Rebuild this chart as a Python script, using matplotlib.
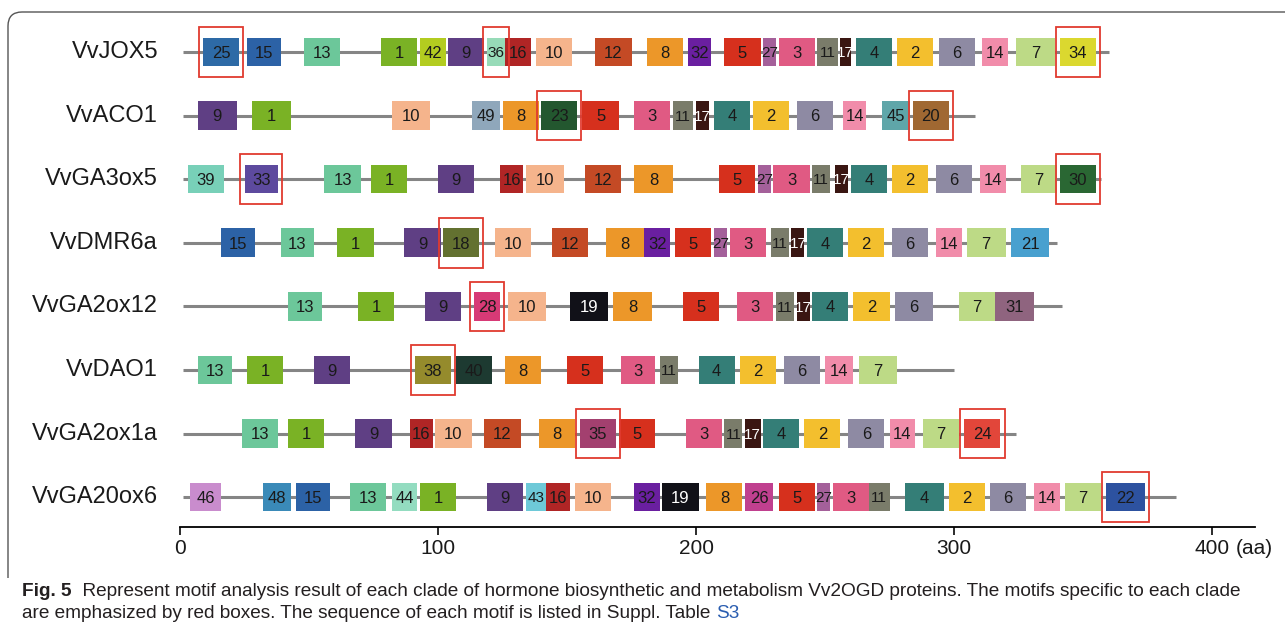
import matplotlib
matplotlib.use('Agg')
import matplotlib.pyplot as plt
from matplotlib.patches import Rectangle, PathPatch
from matplotlib.path import Path

plt.rcParams['font.family'] = ['Liberation Sans', 'DejaVu Sans']

genes = ['VvJOX5', 'VvACO1', 'VvGA3ox5', 'VvDMR6a', 'VvGA2ox12', 'VvDAO1',
         'VvGA2ox1a', 'VvGA20ox6']
lengths = [360, 308, 357, 340, 342, 300, 324, 386]

# (motif, start, end) in aa
jox5 = [(25, 9, 23), (15, 26, 39), (13, 48, 62), (1, 78, 92), (42, 93, 103),
        (9, 104, 118), (36, 119, 126), (16, 126, 136), (10, 138, 152),
        (12, 161, 175), (8, 181, 195), (32, 197, 206), (5, 211, 225),
        (27, 226, 231), (3, 232, 246), (11, 247, 255), (17, 256, 260),
        (4, 262, 276), (2, 278, 292), (6, 294, 308), (14, 311, 321),
        (7, 324, 339), (34, 341, 355)]
aco1 = [(9, 7, 22), (1, 28, 43), (10, 82, 97), (49, 113, 124), (8, 125, 139),
        (23, 140, 154), (5, 156, 170), (3, 176, 190), (11, 191, 199),
        (17, 200, 205), (4, 207, 221), (2, 222, 236), (6, 239, 253),
        (14, 257, 266), (45, 272, 283), (20, 284, 298)]
ga3ox5 = [(39, 3, 17), (33, 25, 38), (13, 56, 70), (1, 74, 88), (9, 100, 114),
          (16, 124, 133), (10, 134, 149), (12, 157, 171), (8, 176, 191),
          (5, 209, 223), (27, 224, 229), (3, 230, 244), (11, 245, 252),
          (17, 254, 259), (4, 260, 274), (2, 276, 290), (6, 293, 307),
          (14, 310, 320), (7, 326, 340), (30, 341, 355)]
dmr6a = [(15, 16, 29), (13, 39, 52), (1, 61, 75), (9, 87, 101), (18, 102, 116),
         (10, 122, 136), (12, 144, 158), (8, 165, 180), (32, 180, 190),
         (5, 192, 206), (27, 207, 212), (3, 213, 227), (11, 229, 236),
         (17, 237, 242), (4, 243, 257), (2, 259, 273), (6, 276, 290),
         (14, 293, 303), (7, 305, 320), (21, 322, 337)]
ga2ox12 = [(13, 42, 55), (1, 69, 83), (9, 95, 109), (28, 114, 124),
           (10, 127, 142), (19, 151, 166), (8, 168, 183), (5, 195, 209),
           (3, 216, 230), (11, 231, 238), (17, 239, 244), (4, 245, 259),
           (2, 261, 275), (6, 277, 292), (7, 302, 316), (31, 316, 331)]
dao1 = [(13, 7, 20), (1, 26, 40), (9, 52, 66), (38, 91, 105), (40, 107, 121),
        (8, 126, 140), (5, 150, 164), (3, 171, 184), (11, 186, 193),
        (4, 201, 215), (2, 217, 231), (6, 234, 248), (14, 250, 261),
        (7, 263, 278)]
ga2ox1a = [(13, 24, 38), (1, 42, 56), (9, 68, 82), (16, 89, 98), (10, 99, 113),
           (12, 118, 132), (8, 139, 153), (35, 155, 169), (5, 170, 184),
           (3, 196, 210), (11, 211, 218), (17, 219, 225), (4, 226, 240),
           (2, 242, 256), (6, 259, 273), (14, 275, 285), (7, 288, 302),
           (24, 304, 318)]
ga20ox6 = [(46, 4, 16), (48, 32, 43), (15, 45, 58), (13, 66, 80), (44, 82, 92),
           (1, 93, 107), (9, 119, 133), (43, 134, 142), (16, 142, 151),
           (10, 153, 167), (32, 176, 186), (19, 187, 201), (8, 204, 218),
           (26, 219, 230), (5, 232, 246), (27, 247, 252), (3, 253, 267),
           (11, 267, 275), (4, 281, 296), (2, 298, 312), (6, 314, 328),
           (14, 331, 341), (7, 343, 357), (22, 359, 374)]
motif_sets = [jox5, aco1, ga3ox5, dmr6a, ga2ox12, dao1, ga2ox1a, ga20ox6]

# clade-specific motifs, outlined in red
specific = [[25, 36, 34], [23, 20], [33, 30], [18], [28], [38], [35, 24], [22]]

xticks = [0, 100, 200, 300, 400]

colors = {
    1: '#7ab225', 2: '#f3bf2e', 3: '#e05a83', 4: '#347e77', 5: '#d6301d',
    6: '#8e8aa3', 7: '#bdda86', 8: '#ec9729', 9: '#5f3f84', 10: '#f5b48c',
    11: '#7a7c6a', 12: '#c44a25', 13: '#6cc79a', 14: '#f18caa', 15: '#2c62a6',
    16: '#b02525', 17: '#3a1612', 18: '#637130', 19: '#111118', 20: '#a06832',
    21: '#48a0cf', 22: '#2d52a0', 23: '#23572f', 24: '#e2463a', 25: '#2d6aa6',
    26: '#c0408f', 27: '#a4609a', 28: '#d73a76', 30: '#2a6733', 31: '#8f647f',
    32: '#6a1fa0', 33: '#5d4a9e', 34: '#dbd82f', 35: '#a3406f', 36: '#97dbb8',
    38: '#958b2c', 39: '#78d0b8', 40: '#1d3a31', 42: '#b3cc20', 43: '#6ec9d8',
    44: '#93dcc0', 45: '#5fa6a9', 46: '#c98ccd', 48: '#3a8ab8', 49: '#8fa7bb',
}
light_text = {17, 19}

W, H = 1285, 636
fig = plt.figure(figsize=(W / 100, H / 100), dpi=100)

# overlay in pixel units for the frame
deco = fig.add_axes([0, 0, 1, 1])
deco.set_xlim(0, W)
deco.set_ylim(H, 0)
deco.axis('off')
frame = Path([(8, 578), (8, 26), (8, 12), (22, 12), (W + 5, 12)],
             [Path.MOVETO, Path.LINETO, Path.CURVE3, Path.CURVE3, Path.LINETO])
deco.add_patch(PathPatch(frame, fill=False, ec='#555555', lw=1.0))

ax = fig.add_axes([180 / W, (H - 527) / H, (1255 - 180) / W, (527 - 20) / H])
ax.set_xlim(0, 1075 / 2.58)
ax.set_ylim(7.47, -0.503)

box_h = 0.45
mark_h = 0.78
pad = 1.6

for i, (gene, length, motifs, marks) in enumerate(
        zip(genes, lengths, motif_sets, specific)):
    ax.plot([1, length], [i, i], color='#858585', lw=2.2, zorder=1,
            solid_capstyle='butt')
    for m, s, e in motifs:
        ax.add_patch(Rectangle((s, i - box_h / 2), e - s, box_h,
                               fc=colors[m], ec='none', zorder=2))
        fs = 12 if e - s >= 9 else 11
        ax.text((s + e) / 2, i + 0.02, str(m), ha='center', va='center',
                fontsize=fs, color='white' if m in light_text else '#1a1a1a',
                zorder=4)
        if m in marks:
            ax.add_patch(Rectangle((s - pad, i - mark_h / 2), e - s + 2 * pad,
                                   mark_h, fill=False, ec='#e03a2f', lw=1.3,
                                   zorder=3))
    ax.text(-8.5, i, gene, ha='right', va='center', fontsize=17,
            color='#1a1a1a')

for side in ['top', 'right', 'left']:
    ax.spines[side].set_visible(False)
ax.spines['bottom'].set_linewidth(1.3)
ax.set_yticks([])
ax.set_xticks(xticks)
ax.tick_params(axis='x', length=6, width=1.3, labelsize=15, pad=3,
               colors='#1a1a1a')
fig.text(1236 / W, 1 - 549 / H, '(aa)', ha='left', va='center', fontsize=15,
         color='#1a1a1a')

# caption
cap = dict(fontsize=13.7, color='#231f20')
t1 = fig.text(22 / W, 1 - 592 / H, 'Fig. 5', ha='left', va='center',
              fontweight='bold', **cap)
ax.annotate('  Represent motif analysis result of each clade of hormone '
            'biosynthetic and metabolism Vv2OGD proteins. The motifs specific '
            'to each clade', xy=(1, 0), xycoords=t1, ha='left', va='bottom',
            **cap)
t2 = fig.text(22 / W, 1 - 614 / H, 'are emphasized by red boxes. The sequence '
              'of each motif is listed in Suppl. Table ', ha='left',
              va='center', **cap)
ax.annotate('S3', xy=(1, 0), xycoords=t2, ha='left', va='bottom',
            fontsize=13.7, color='#2a5db0')

fig.savefig('out.png', dpi=100)
